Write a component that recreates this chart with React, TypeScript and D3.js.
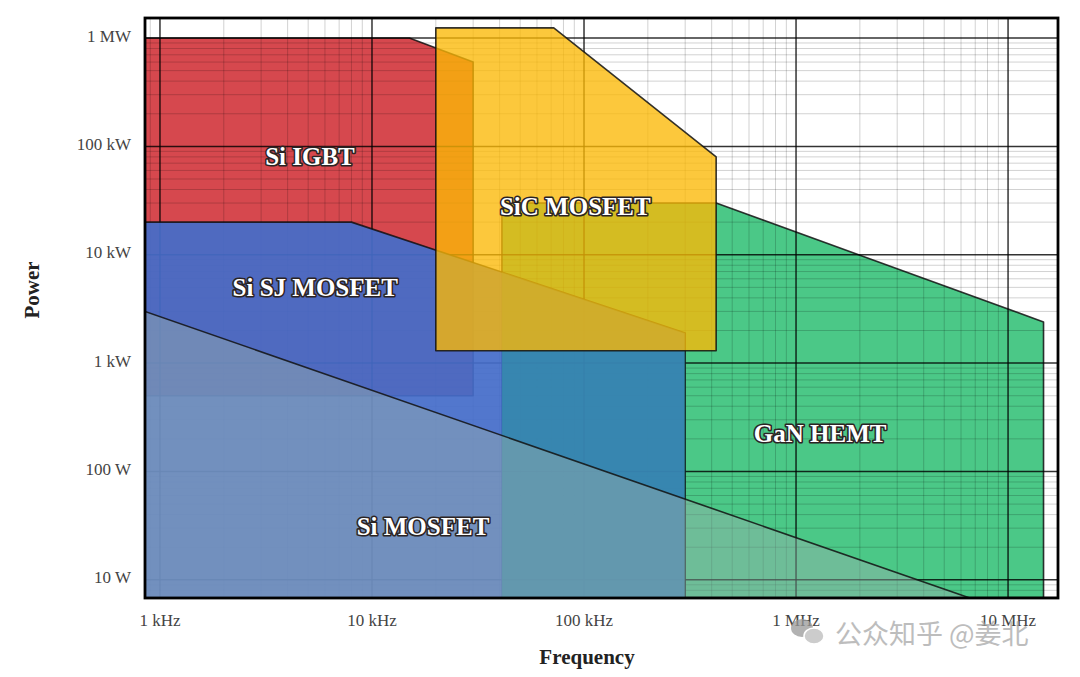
import * as d3 from 'd3';

// frequency (Hz), power (W) outlines
const siIgbt: [number, number][] = [[850, 1e6], [15e3, 1e6], [30e3, 600e3], [30e3, 500], [850, 500]];
const siSjMosfet: [number, number][] = [[850, 20e3], [8e3, 20e3], [300e3, 1.9e3], [300e3, 6.8], [850, 6.8]];
const ganHemt: [number, number][] = [[41e3, 30e3], [420e3, 30e3], [14.7e6, 2.4e3], [14.7e6, 6.8], [41e3, 6.8]];
const siMosfet: [number, number][] = [[850, 3e3], [6.6e6, 6.8], [850, 6.8]];
const sicMosfet: [number, number][] = [[20e3, 1.24e6], [72e3, 1.24e6], [420e3, 80e3], [420e3, 1.3e3], [20e3, 1.3e3]];

const regionNames = ['Si IGBT', 'GaN HEMT', 'Si SJ MOSFET', 'Si MOSFET', 'SiC MOSFET'];
const regionColors = ['#d6484e', '#4bc887', '#456dc9', '#99afac', '#fbb805'];
const regionOpacity = [1, 1, 0.93, 0.45, 0.78];
const labelAt: [number, number][] = [[5.1e3, 81e3], [1.3e6, 225], [5.4e3, 5e3], [17.4e3, 31], [91e3, 28e3]];

const xTicks = [1e3, 1e4, 1e5, 1e6, 1e7];
const xTickLabels = ['1 kHz', '10 kHz', '100 kHz', '1 MHz', '10 MHz'];
const yTicks = [10, 100, 1e3, 1e4, 1e5, 1e6];
const yTickLabels = ['10 W', '100 W', '1 kW', '10 kW', '100 kW', '1 MW'];

const width = 1080;
const height = 677;
const left = 145, right = 1058, top = 18, bottom = 598;

const serif = '"Liberation Serif", "Times New Roman", serif';

function App() {
  const x = d3.scaleLog().domain([850, 17.2e6]).range([left, right]);
  const y = d3.scaleLog().domain([6.8, 1.53e6]).range([bottom, top]);
  const line = d3.line<[number, number]>().x(d => x(d[0])).y(d => y(d[1]));
  const shapes = [siIgbt, ganHemt, siSjMosfet, siMosfet, sicMosfet];
  const pathOf = (pts: [number, number][]) => (line(pts) ?? '') + 'Z';

  const xMinor = x.ticks().filter(t => !xTicks.includes(t));
  const yMinor = y.ticks().filter(t => !yTicks.includes(t));

  const grid = (
    <g>
      {xMinor.map((t, i) => (
        <line key={'xm' + i} x1={x(t)} x2={x(t)} y1={top} y2={bottom} stroke="#000" strokeOpacity={0.18} strokeWidth={1} />
      ))}
      {yMinor.map((t, i) => (
        <line key={'ym' + i} x1={left} x2={right} y1={y(t)} y2={y(t)} stroke="#000" strokeOpacity={0.18} strokeWidth={1} />
      ))}
      {xTicks.map((t, i) => (
        <line key={'xM' + i} x1={x(t)} x2={x(t)} y1={top} y2={bottom} stroke="#000" strokeOpacity={0.8} strokeWidth={1.5} />
      ))}
      {yTicks.map((t, i) => (
        <line key={'yM' + i} x1={left} x2={right} y1={y(t)} y2={y(t)} stroke="#000" strokeOpacity={0.8} strokeWidth={1.5} />
      ))}
    </g>
  );

  const poly = (i: number) => (
    <path
      key={regionNames[i]}
      d={pathOf(shapes[i])}
      fill={regionColors[i]}
      fillOpacity={regionOpacity[i]}
      stroke="#111"
      strokeOpacity={0.85}
      strokeWidth={1.6}
      strokeLinejoin="round"
    />
  );

  return (
    <svg width={width} height={height} style={{ position: 'absolute', left: 0, top: 0, background: '#fff' }}>
      <defs>
        <clipPath id="plot">
          <rect x={left} y={top} width={right - left} height={bottom - top} />
        </clipPath>
        <clipPath id="sj">
          <path d={pathOf(siSjMosfet)} />
        </clipPath>
      </defs>
      <g clipPath="url(#plot)">
        {poly(0)}
        {poly(1)}
        {grid}
        {poly(2)}
        {/* GaN showing through the SJ MOSFET area gives the teal tint */}
        <g clipPath="url(#sj)">
          <path d={pathOf(ganHemt)} fill="#2a9a9c" fillOpacity={0.5} />
        </g>
        {poly(3)}
        {poly(4)}
      </g>
      <rect x={left} y={top} width={right - left} height={bottom - top} fill="none" stroke="#000" strokeWidth={2.8} />

      {regionNames.map((name, i) => (
        <text
          key={'lab' + i}
          x={x(labelAt[i][0])}
          y={y(labelAt[i][1])}
          textAnchor="middle"
          dominantBaseline="central"
          fontFamily={serif}
          fontWeight="bold"
          fontSize={25}
          fill="#fff"
          stroke="#2b2424"
          strokeWidth={3.2}
          strokeLinejoin="round"
          paintOrder="stroke"
        >
          {name}
        </text>
      ))}

      {xTicks.map((t, i) => (
        <text key={'xt' + i} x={x(t)} y={620} textAnchor="middle" dominantBaseline="central" fontFamily={serif} fontSize={17} fill="#444">
          {xTickLabels[i]}
        </text>
      ))}
      {yTicks.map((t, i) => (
        <text key={'yt' + i} x={131} y={y(t) - 2} textAnchor="end" dominantBaseline="central" fontFamily={serif} fontSize={17} fill="#444">
          {yTickLabels[i]}
        </text>
      ))}

      <text x={587} y={657} textAnchor="middle" dominantBaseline="central" fontFamily={serif} fontWeight="bold" fontSize={21} fill="#222">
        Frequency
      </text>
      <text transform="translate(32,290) rotate(-90)" textAnchor="middle" dominantBaseline="central" fontFamily={serif} fontWeight="bold" fontSize={21} fill="#222">
        Power
      </text>

      <g opacity={0.75}>
        <ellipse cx={802} cy={628} rx={11} ry={9} fill="#999" />
        <ellipse cx={814} cy={636} rx={10} ry={8} fill="#bbb" stroke="#fff" strokeWidth={1.5} />
        <text x={835} y={632} dominantBaseline="central" fontFamily='"Noto Sans CJK SC", sans-serif' fontSize={27} fill="#a8a8a8">
          公众知乎 @姜北
        </text>
      </g>
    </svg>
  );
}

export default App;
